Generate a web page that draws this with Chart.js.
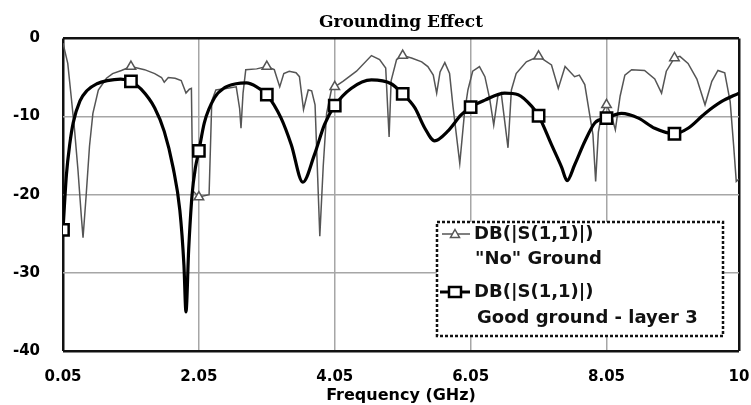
<!DOCTYPE html>
<html>
<head>
<meta charset="utf-8">
<script src="https://cdn.jsdelivr.net/npm/chart.js@4.4.1/dist/chart.umd.min.js"></script>
<style>
    html, body { margin: 0; padding: 0; background: #fff; }
    #wrap { width: 751px; height: 405px; }
</style>
</head>
<body>
<div id="wrap"><canvas id="chart" width="751" height="405"></canvas></div>
<script>
// Axis ticks
const xTicks = [0.05, 2.05, 4.05, 6.05, 8.05, 10];
const yTicks = [0, -10, -20, -30, -40];

// "No" Ground trace (thin)
const noGroundFreq = [0.05, 0.12, 0.17, 0.22, 0.27, 0.32, 0.345, 0.39, 0.44, 0.49, 0.57, 0.69, 0.78, 0.91,
    1.05, 1.25, 1.4, 1.5, 1.54, 1.6, 1.7, 1.79, 1.86, 1.91, 1.94, 1.96, 2.05, 2.2, 2.24, 2.3, 2.45, 2.6,
    2.65, 2.67, 2.7, 2.74, 2.9, 3.05, 3.16, 3.24, 3.3, 3.38, 3.48, 3.53, 3.59, 3.66, 3.71, 3.76, 3.83,
    3.88, 3.93, 4.0, 4.05, 4.17, 4.37, 4.59, 4.71, 4.8, 4.85, 4.88, 4.96, 5.05, 5.18, 5.33, 5.42, 5.5,
    5.55, 5.6, 5.67, 5.74, 5.79, 5.89, 5.96, 6.01, 6.08, 6.18, 6.26, 6.33, 6.39, 6.45, 6.5, 6.6, 6.65,
    6.72, 6.87, 7.05, 7.24, 7.34, 7.44, 7.58, 7.65, 7.73, 7.85, 7.89, 7.93, 7.98, 8.05, 8.12, 8.18, 8.25,
    8.32, 8.42, 8.61, 8.76, 8.86, 8.93, 9.05, 9.13, 9.25, 9.38, 9.5, 9.6, 9.69, 9.79, 9.87, 9.92, 9.96, 10];
const noGroundDb = [-0.6, -3.2, -7.4, -11.7, -16.8, -22.8, -25.5, -20.2, -13.8, -9.6, -6.6, -5.1, -4.5, -4.1,
    -3.6, -4.0, -4.5, -5.0, -5.6, -5.0, -5.1, -5.4, -7.0, -6.5, -6.4, -19.5, -20.3, -20.0, -8.0, -6.6, -6.4, -6.2,
    -9.0, -11.5, -7.0, -4.0, -3.9, -3.6, -4.0, -6.2, -4.5, -4.2, -4.4, -4.9, -9.1, -6.6, -6.7, -8.5, -25.3,
    -16.4, -9.6, -6.6, -6.2, -5.5, -4.2, -2.2, -2.7, -3.8, -12.6, -5.4, -2.7, -2.2, -2.5, -3.0, -3.6, -4.7,
    -7.0, -4.3, -3.1, -4.5, -8.7, -16.0, -9.5, -6.6, -4.2, -3.6, -4.9, -7.7, -11.1, -7.4, -7.0, -14.0, -6.6,
    -4.5, -3.0, -2.3, -3.4, -6.4, -3.6, -4.9, -4.7, -5.9, -12.3, -18.3, -12.0, -9.6, -8.5, -9.8, -11.7, -7.4,
    -4.7, -4.0, -4.1, -5.2, -7.0, -4.2, -2.5, -2.3, -3.2, -5.2, -8.5, -5.5, -4.1, -4.4, -8.1, -13.6, -18.3, -18.0];

// Good ground - layer 3 trace (thick)
const goodFreq = [0.05, 0.1, 0.15, 0.2, 0.3, 0.4, 0.55, 0.7, 0.9, 1.05, 1.2, 1.4, 1.54, 1.67, 1.77, 1.83, 1.86,
    1.9, 1.95, 2.0, 2.05, 2.13, 2.28, 2.43, 2.6, 2.75, 2.9, 3.05, 3.26, 3.41, 3.58, 3.75, 3.9, 4.05, 4.29,
    4.59, 4.88, 5.05, 5.23, 5.37, 5.52, 5.71, 5.91, 6.05, 6.26, 6.55, 6.75, 6.95, 7.05, 7.24, 7.39, 7.47,
    7.58, 7.73, 7.88, 8.05, 8.27, 8.52, 8.76, 9.05, 9.25, 9.5, 9.74, 10];
const goodDb = [-24.5, -17.5, -13.5, -10.8, -8.0, -6.7, -5.8, -5.4, -5.2, -5.5, -6.5, -8.9, -11.9, -16.5, -22.0, -29.0, -35.0,
    -27.0, -20.0, -16.5, -14.4, -10.8, -7.6, -6.3, -5.8, -5.7, -6.2, -7.2, -10.2, -13.6, -18.4, -14.9, -11.0, -8.6, -6.4,
    -5.3, -5.8, -7.1, -8.9, -11.4, -13.1, -11.9, -9.8, -8.8, -7.9, -7.0, -7.2, -8.7, -9.9, -13.6, -16.5, -18.2,
    -16.2, -13.2, -10.8, -10.2, -9.6, -10.2, -11.5, -12.2, -11.5, -9.6, -8.1, -7.0];

// Frequencies carrying a marker symbol
const triangleMarkers = [1.05, 2.05, 3.05, 4.05, 5.05, 7.05, 8.05, 9.05];
const squareMarkers = [0.05, 1.05, 2.05, 3.05, 4.05, 5.05, 6.05, 7.05, 8.05, 9.05];

function toPoints(freqs, values) {
    return freqs.map((f, i) => ({ x: f, y: values[i] }));
}

function hasMarker(list, x) {
    return list.some(m => Math.abs(m - x) < 1e-6);
}

// Legend box drawn inside the plot, bottom right
const legendBox = {
    id: 'legendBox',
    afterDraw(chart) {
        const ctx = chart.ctx;
        const area = chart.chartArea;
        const left = area.right - 302;
        const top = area.bottom - 129;
        const w = 286, h = 114;

        ctx.save();
        ctx.fillStyle = '#fff';
        ctx.fillRect(left, top, w, h);
        ctx.setLineDash([3, 2]);
        ctx.lineWidth = 2.5;
        ctx.strokeStyle = '#111';
        ctx.strokeRect(left, top, w, h);
        ctx.setLineDash([]);

        // "No" Ground sample
        const y1 = top + 12;
        ctx.strokeStyle = '#555';
        ctx.lineWidth = 1.5;
        ctx.beginPath();
        ctx.moveTo(left + 5, y1);
        ctx.lineTo(left + 33, y1);
        ctx.stroke();
        ctx.fillStyle = '#fff';
        ctx.beginPath();
        ctx.moveTo(left + 18, y1 - 4.5);
        ctx.lineTo(left + 22.5, y1 + 3.5);
        ctx.lineTo(left + 13.5, y1 + 3.5);
        ctx.closePath();
        ctx.fill();
        ctx.stroke();

        // Good ground sample
        const y3 = top + 70;
        ctx.strokeStyle = '#000';
        ctx.lineWidth = 3;
        ctx.beginPath();
        ctx.moveTo(left + 3, y3);
        ctx.lineTo(left + 33, y3);
        ctx.stroke();
        ctx.lineWidth = 2.5;
        ctx.fillStyle = '#fff';
        ctx.fillRect(left + 12, y3 - 5, 12, 10);
        ctx.strokeRect(left + 12, y3 - 5, 12, 10);

        ctx.fillStyle = '#111';
        ctx.font = 'bold 18px "DejaVu Sans"';
        ctx.textBaseline = 'middle';
        ctx.textAlign = 'left';
        ctx.fillText('DB(|S(1,1)|)', left + 37, y1);
        ctx.fillText('"No" Ground', left + 38, top + 37);
        ctx.fillText('DB(|S(1,1)|)', left + 37, y3);
        ctx.fillText('Good ground - layer 3', left + 40, top + 96);
        ctx.restore();
    }
};

const edgeColor = '#111';
const gridColor = '#a6a6a6';

new Chart(document.getElementById('chart'), {
    type: 'line',
    data: {
        datasets: [
            {
                label: 'DB(|S(1,1)|) Good ground - layer 3',
                data: toPoints(goodFreq, goodDb),
                borderColor: '#000',
                borderWidth: 3.2,
                cubicInterpolationMode: 'monotone',
                pointStyle: 'rect',
                pointRadius: ctx => hasMarker(squareMarkers, ctx.raw.x) ? 8 : 0,
                pointBackgroundColor: '#fff',
                pointBorderColor: '#000',
                pointBorderWidth: 2.5
            },
            {
                label: 'DB(|S(1,1)|) "No" Ground',
                data: toPoints(noGroundFreq, noGroundDb),
                borderColor: '#555',
                borderWidth: 1.5,
                tension: 0,
                pointStyle: 'triangle',
                pointRadius: ctx => hasMarker(triangleMarkers, ctx.raw.x) ? 5.5 : 0,
                pointBackgroundColor: '#fff',
                pointBorderColor: '#555',
                pointBorderWidth: 1.5
            }
        ]
    },
    options: {
        responsive: false,
        animation: false,
        events: [],
        layout: { padding: { left: 0, right: 12, top: 0, bottom: 0 } },
        plugins: {
            legend: { display: false },
            tooltip: { enabled: false },
            title: {
                display: true,
                text: 'Grounding Effect',
                fullSize: false,
                color: '#000',
                font: { family: '"DejaVu Serif"', size: 17, weight: 'bold' },
                padding: { top: 12, bottom: 6 }
            }
        },
        scales: {
            x: {
                type: 'linear',
                min: 0.05,
                max: 10,
                afterBuildTicks: scale => { scale.ticks = xTicks.map(v => ({ value: v })); },
                afterFit: scale => {
                    scale.height = 54;
                    // let layout padding alone decide the side margins
                    scale.paddingLeft = 0;
                    scale.paddingRight = 0;
                },
                ticks: {
                    padding: 17,
                    color: '#000',
                    font: { family: '"DejaVu Sans"', size: 15, weight: 'bold' },
                    callback: v => String(v)
                },
                grid: {
                    drawTicks: false,
                    color: ctx => (ctx.tick.value === 0.05 || ctx.tick.value === 10) ? edgeColor : gridColor,
                    lineWidth: ctx => (ctx.tick.value === 0.05 || ctx.tick.value === 10) ? 2.5 : 1.5
                },
                border: { display: false },
                title: {
                    display: true,
                    text: 'Frequency (GHz)',
                    color: '#000',
                    font: { family: '"DejaVu Sans"', size: 16, weight: 'bold' },
                    padding: { top: 0, bottom: 0 }
                }
            },
            y: {
                min: -40,
                max: 0,
                afterBuildTicks: scale => { scale.ticks = yTicks.map(v => ({ value: v })); },
                afterFit: scale => { scale.width = 63; },
                ticks: {
                    padding: 23,
                    color: '#000',
                    font: { family: '"DejaVu Sans"', size: 15, weight: 'bold' }
                },
                grid: {
                    drawTicks: false,
                    color: ctx => (ctx.tick.value === 0 || ctx.tick.value === -40) ? edgeColor : gridColor,
                    lineWidth: ctx => (ctx.tick.value === 0 || ctx.tick.value === -40) ? 2.5 : 1.5
                },
                border: { display: false }
            }
        }
    },
    plugins: [legendBox]
});
</script>
</body>
</html>
